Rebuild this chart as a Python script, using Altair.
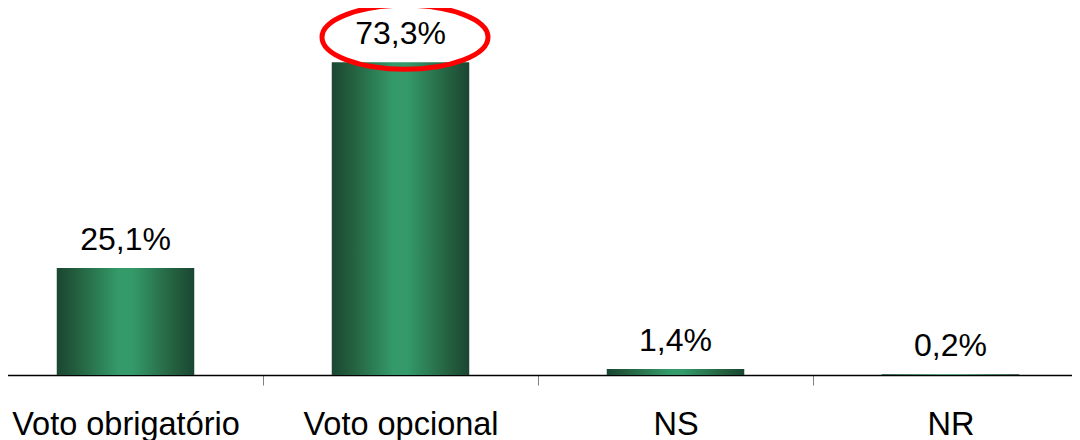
import altair as alt
import pandas as pd

categories = ["Voto obrigatório", "Voto opcional", "NS", "NR"]
values = [25.1, 73.3, 1.4, 0.2]
labels = ["25,1%", "73,3%", "1,4%", "0,2%"]

df = pd.DataFrame({"cat": categories, "val": values, "lab": labels})

FONT = "Liberation Sans"
W, H = 1064, 367

x = alt.X("cat:N", sort=categories,
          scale=alt.Scale(range=[-20, 1080], paddingInner=0.5, paddingOuter=0.25),
          axis=alt.Axis(title=None, labelFont=FONT, labelFontSize=32.5, labelColor="black",
                        labelAngle=0, labelPadding=23, domainColor="black", domainWidth=1.5,
                        tickColor="#808080", tickSize=10, tickWidth=1,
                        tickOffset=-137.5, labelOffset=137.5, labelLimit=400))
y = alt.Y("val:Q", scale=alt.Scale(domain=[0, 86], nice=False), axis=None)

grad = alt.Gradient(
    gradient="linear", x1=0, x2=1, y1=0, y2=0,
    stops=[
        alt.GradientStop(color="#1a4632", offset=0),
        alt.GradientStop(color="#24603f", offset=0.15),
        alt.GradientStop(color="#349a6a", offset=0.45),
        alt.GradientStop(color="#349a6a", offset=0.55),
        alt.GradientStop(color="#24603f", offset=0.85),
        alt.GradientStop(color="#1a4632", offset=1),
    ],
)

bars = alt.Chart(df).mark_bar(color=grad, clip=False).encode(x=x, y=y)

text = alt.Chart(df).mark_text(font=FONT, fontSize=32, color="black", baseline="alphabetic",
                               dy=-18).encode(x=x, y=y, text="lab:N")

# ellipse highlighting the maximum
s = 83
cx, cy = 4.5 / s, -25 / s
rx, ry = 1.0, 32 / s
k = 0.5523
def f(v):
    return f"{v:.4f}"
path = (
    f"M {f(cx-rx)} {f(cy)} "
    f"C {f(cx-rx)} {f(cy-k*ry)} {f(cx-k*rx)} {f(cy-ry)} {f(cx)} {f(cy-ry)} "
    f"C {f(cx+k*rx)} {f(cy-ry)} {f(cx+rx)} {f(cy-k*ry)} {f(cx+rx)} {f(cy)} "
    f"C {f(cx+rx)} {f(cy+k*ry)} {f(cx+k*rx)} {f(cy+ry)} {f(cx)} {f(cy+ry)} "
    f"C {f(cx-k*rx)} {f(cy+ry)} {f(cx-rx)} {f(cy+k*ry)} {f(cx-rx)} {f(cy)} Z"
)
ellipse = alt.Chart(df).transform_joinaggregate(mx="max(val)").transform_filter(
    "datum.val == datum.mx"
).mark_point(shape=path, size=(2 * s) ** 2, filled=False, stroke="#ff0000",
             strokeWidth=5, opacity=1).encode(x=x, y=y)

chart = alt.layer(bars, text, ellipse).properties(
    width=W, height=H,
    autosize=alt.AutoSizeParams(type="none"),
    padding={"left": 0, "top": 0, "right": 0, "bottom": 65},
).configure_view(stroke=None)

chart.save("out.html", embed_options={"renderer": "svg", "actions": False})
